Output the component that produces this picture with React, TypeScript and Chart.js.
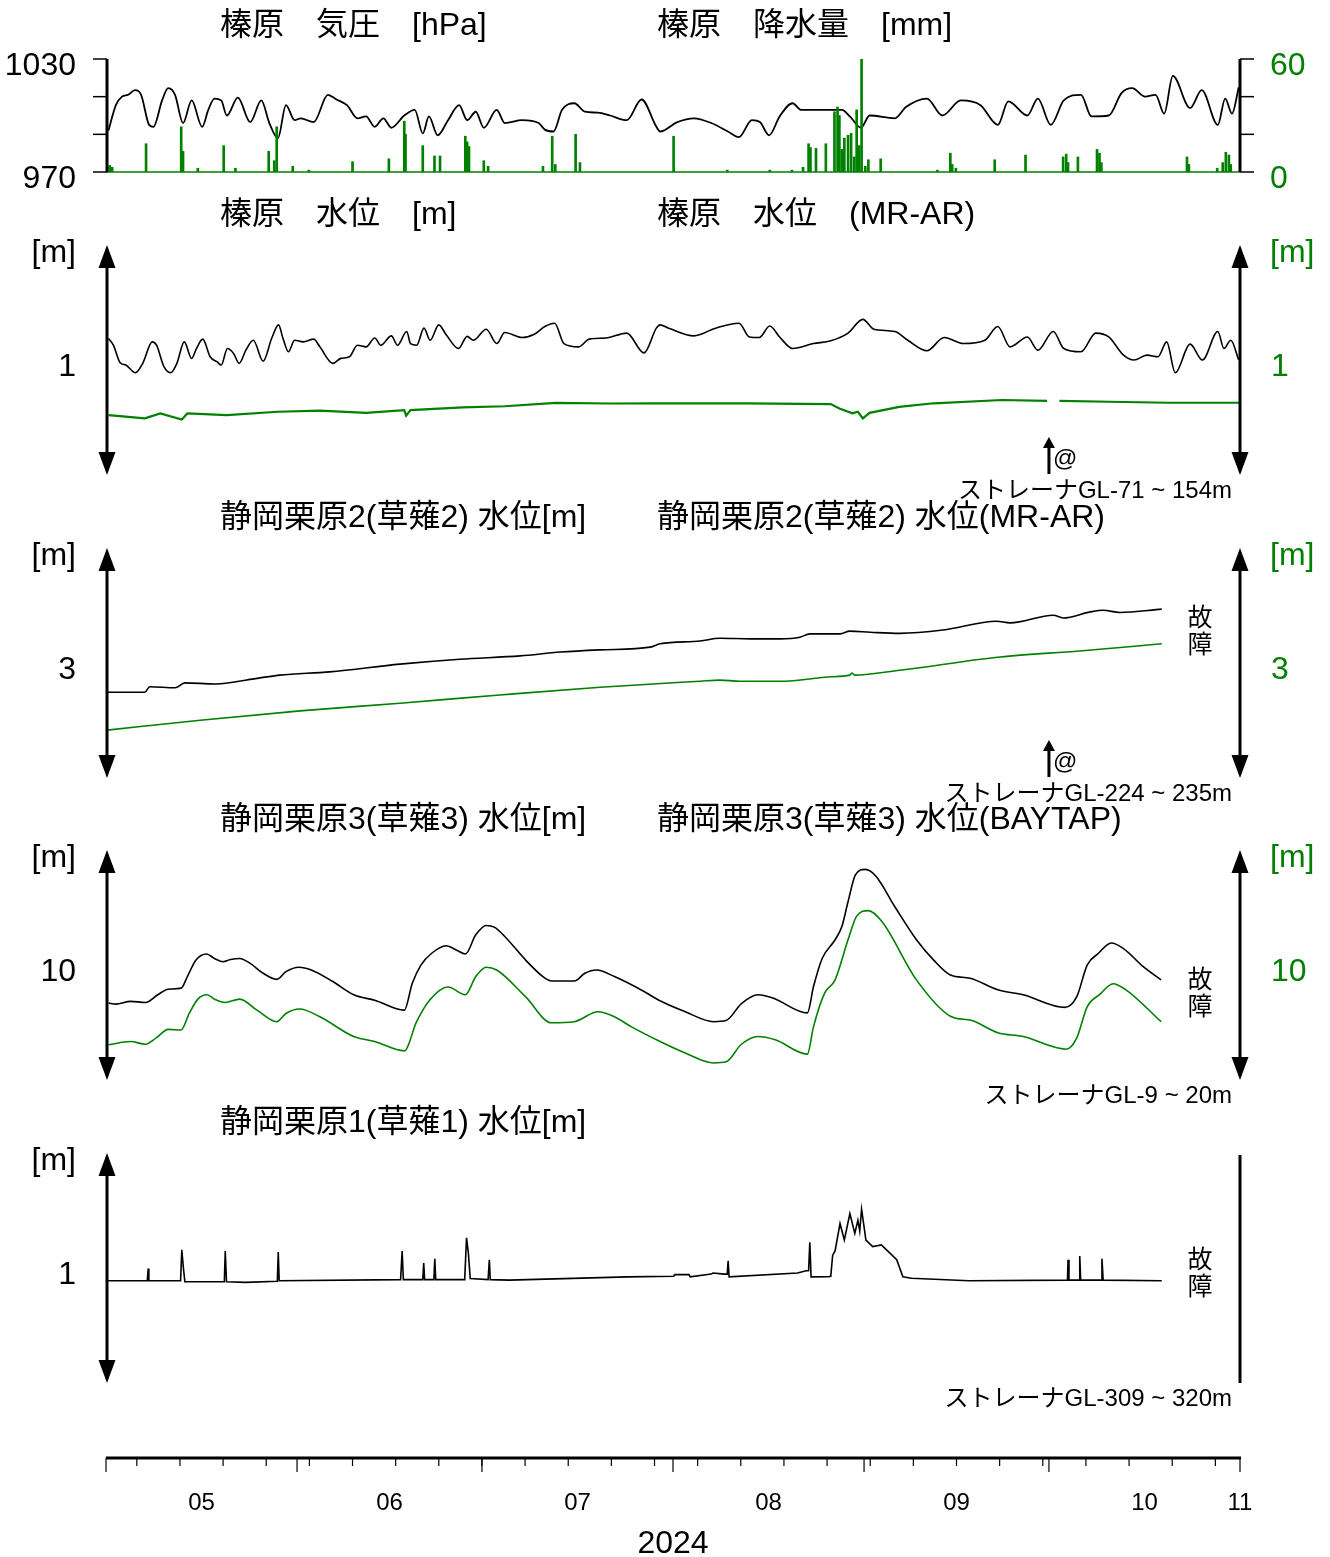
import React, { useEffect, useRef } from 'react';
import { Chart, registerables } from 'chart.js';

Chart.register(...registerables);

type Pt = [number, number | null];

const GREEN = '#008000';
const BLACK = '#000000';
const FONT = '"Liberation Sans", Arial, "Noto Sans CJK JP", sans-serif';

// x values are days counted from 2024-05-01
const monthLabels = ['05', '06', '07', '08', '09', '10', '11'];
const monthStartDays = [0, 31, 61, 92, 123, 153, 184];
const weeklyTickDays = [5, 12, 19, 26, 33, 40, 47, 54, 61, 68, 75, 82, 89, 96, 103, 110, 117, 124, 131, 138, 145, 152, 159, 166, 173, 180];
const yearLabel = '2024';

const pressureTicks = [970, 990, 1010, 1030];
const pressureTickLabels = [970, 1030];
const rainTicks = [0, 20, 40, 60];
const rainTickLabels = [0, 60];

// 榛原 気圧 [hPa]
const pressureHpa: Pt[] = [
  [0.4, 992], [1.6, 1005.5], [2.6, 1010], [3.6, 1011], [4.7, 1013.5], [5.7, 1011], [7.0, 995], [7.7, 994],
  [9.1, 1008], [10.1, 1014.5], [11.2, 1011], [12.5, 996], [13.9, 1008], [15.6, 994], [16.6, 1003], [17.6, 1009],
  [18.7, 1008], [19.6, 1000], [21.4, 1009.5], [23.4, 996.5], [25.2, 1008], [26.5, 996], [27.9, 988], [29.2, 1005.5],
  [30.6, 997.5], [31.6, 998.5], [33.7, 996.5], [36.0, 1011], [37.4, 1008.5], [39.1, 1005.5], [40.8, 998.5],
  [42.2, 999.5], [43.6, 994], [45.0, 998.5], [46.3, 993.5], [48.4, 1000], [50.1, 1003], [51.4, 990.5],
  [52.4, 999.5], [53.8, 989.5], [55.5, 997.5], [57.3, 1005.5], [58.6, 997.5], [60.0, 1002], [61.3, 993.5],
  [63.4, 1003], [64.7, 996], [67.5, 997.5], [70.2, 996], [71.2, 992.5], [72.6, 991.5], [74.0, 1003], [76.0, 1006.5],
  [77.7, 1002], [79.8, 1001.5], [81.8, 1000], [84.5, 997.5], [86.9, 1008.5], [89.3, 994], [89.9, 991.5],
  [92.7, 996.5], [95.4, 998.5], [98.2, 996], [100.9, 991.5], [102.7, 988.5], [104.8, 997.5], [106.1, 996.5],
  [107.6, 989.5], [109.3, 999.5], [111.4, 1006.5], [112.8, 1003], [116.2, 1003], [119.4, 1003], [120.7, 999.5],
  [122.5, 993.5], [123.9, 1000], [128.0, 998.5], [129.8, 1004.5], [133.2, 1009], [135.7, 1000], [138.7, 1008],
  [141.9, 1005.5], [144.7, 995], [146.4, 1007.5], [149.5, 1000], [151.2, 1009], [153.3, 995], [155.4, 1008],
  [158.2, 1011], [159.9, 999.5], [162.7, 1000], [164.8, 1012], [166.5, 1014.5], [168.6, 1010], [170.3, 1011],
  [171.7, 1001], [173.1, 1021], [175.9, 1004], [177.8, 1013.5], [180.4, 995], [181.6, 1009], [182.7, 1001],
  [183.8, 1015],
];

// 榛原 降水量 [mm]
const rainMm: Pt[] = [
  [0.6, 3.5], [1.0, 2.5], [6.5, 15], [12.2, 24], [12.5, 11], [14.9, 2], [19.1, 14], [21.0, 2], [26.4, 11],
  [27.3, 6], [27.7, 24], [30.3, 3], [32.9, 1], [40.0, 5.5], [45.9, 7], [48.4, 27], [48.6, 20], [51.4, 14],
  [53.3, 8.5], [54.2, 8.5], [58.3, 19], [58.6, 16], [58.9, 13.5], [61.3, 6], [62.0, 3], [70.9, 3], [72.4, 19],
  [72.9, 4], [76.2, 20], [76.9, 5], [92.1, 19], [100.8, 1], [107.7, 1], [111.3, 1], [113.1, 2.5], [114.0, 15],
  [114.3, 13], [115.2, 12.5], [116.8, 15], [118.2, 32], [118.7, 34.5], [119.0, 30], [119.4, 12], [119.8, 18],
  [120.4, 19.5], [120.9, 20.5], [121.4, 8], [121.8, 33], [122.2, 14], [122.6, 60], [123.2, 3], [123.7, 6.5],
  [125.7, 7], [134.9, 1], [137.0, 10], [137.3, 4], [137.9, 2], [144.2, 6.5], [149.2, 9], [155.3, 8], [155.8, 9.5],
  [156.1, 5], [157.7, 8], [160.8, 12], [161.2, 10], [161.5, 5], [175.4, 8], [175.7, 4], [180.3, 2], [181.2, 5],
  [181.7, 10.5], [182.2, 9], [182.5, 4],
];

// 榛原 水位 [m]
const haibaraLevel: Pt[] = [
  [0.4, 1.24], [1.2, 1.18], [2.3, 1.02], [3.2, 1.0], [4.8, 0.93], [6.0, 1.02], [7.5, 1.21], [8.2, 1.18],
  [9.4, 0.985], [10.5, 0.93], [11.5, 1.015], [12.7, 1.21], [13.9, 1.06], [14.6, 1.14], [15.7, 1.235], [16.9, 1.075],
  [18.0, 1.03], [18.7, 1.0], [19.7, 1.15], [20.7, 1.105], [21.6, 1.015], [22.7, 1.135], [23.9, 1.225], [25.5, 1.035],
  [26.9, 1.245], [28.0, 1.365], [28.7, 1.245], [29.6, 1.12], [30.6, 1.225], [32.0, 1.21], [33.7, 1.235],
  [34.7, 1.165], [36.8, 1.015], [38.1, 1.06], [39.5, 1.075], [40.8, 1.18], [42.2, 1.165], [43.6, 1.245],
  [44.6, 1.18], [46.3, 1.265], [47.3, 1.18], [48.8, 1.305], [49.4, 1.195], [50.4, 1.18], [51.6, 1.335],
  [52.6, 1.225], [54.0, 1.365], [55.2, 1.275], [57.2, 1.15], [58.6, 1.26], [59.6, 1.225], [61.7, 1.325],
  [63.4, 1.195], [64.7, 1.295], [67.5, 1.25], [69.5, 1.28], [71.2, 1.35], [72.8, 1.38], [74.3, 1.195],
  [76.7, 1.165], [78.4, 1.235], [81.1, 1.245], [84.5, 1.29], [87.3, 1.11], [89.3, 1.335], [89.9, 1.365],
  [91.3, 1.335], [95.4, 1.265], [98.9, 1.335], [102.7, 1.38], [104.4, 1.255], [106.0, 1.25], [107.7, 1.355],
  [109.3, 1.255], [111.4, 1.15], [114.8, 1.195], [117.6, 1.22], [120.4, 1.29], [122.8, 1.415], [124.6, 1.325],
  [128.0, 1.305], [130.1, 1.225], [133.2, 1.13], [136.0, 1.25], [139.1, 1.195], [142.6, 1.225], [144.7, 1.35],
  [146.7, 1.165], [149.5, 1.255], [151.2, 1.135], [153.7, 1.305], [155.4, 1.15], [158.2, 1.12], [160.6, 1.29],
  [162.7, 1.255], [165.1, 1.09], [166.8, 1.045], [168.9, 1.09], [170.7, 1.075], [172.1, 1.21], [173.5, 0.93],
  [175.9, 1.19], [177.9, 1.045], [180.4, 1.305], [181.4, 1.15], [182.5, 1.225], [183.8, 1.045],
];

// 榛原 水位 (MR-AR)
const haibaraLevelMrAr: Pt[] = [
  [0.4, 0.545], [6.3, 0.515], [8.8, 0.56], [12.3, 0.505], [13.2, 0.56], [19.6, 0.545], [27.9, 0.575],
  [34.7, 0.585], [42.2, 0.565], [48.4, 0.59], [48.7, 0.54], [49.4, 0.59], [57.9, 0.615], [64.7, 0.625],
  [73.0, 0.655], [81.8, 0.65], [89.9, 0.652], [103.8, 0.652], [117.6, 0.645], [119.0, 0.605], [121.1, 0.56],
  [122.0, 0.575], [122.8, 0.515], [123.9, 0.565], [128.7, 0.62], [134.3, 0.652], [145.4, 0.682], [152.7, 0.673],
  [152.8, null], [154.7, 0.673], [162.7, 0.666], [172.4, 0.657], [183.8, 0.657],
];

// 静岡栗原2(草薙2) 水位 [m]
const kusanagi2Level: Pt[] = [
  [0.2, 2.78], [6.3, 2.78], [7.1, 2.83], [11.2, 2.82], [12.8, 2.865], [17.7, 2.855], [25.0, 2.91], [28.2, 2.935],
  [36.3, 2.965], [47.7, 3.035], [57.4, 3.08], [67.2, 3.11], [73.7, 3.145], [80.2, 3.165], [88.3, 3.19],
  [89.9, 3.22], [96.4, 3.245], [99.6, 3.27], [104.5, 3.265], [109.4, 3.265], [112.6, 3.28], [114.2, 3.31],
  [119.1, 3.31], [120.7, 3.335], [124.0, 3.325], [128.8, 3.315], [135.8, 3.345], [144.5, 3.425], [146.7, 3.41],
  [153.7, 3.48], [155.3, 3.455], [159.7, 3.51], [161.8, 3.525], [164.5, 3.505], [171.3, 3.535],
];

// 静岡栗原2(草薙2) 水位 (MR-AR)
const kusanagi2LevelMrAr: Pt[] = [
  [0.2, 2.435], [15.3, 2.525], [31.5, 2.61], [47.7, 2.68], [63.9, 2.755], [80.2, 2.825], [96.4, 2.88],
  [99.6, 2.89], [102.9, 2.88], [109.4, 2.88], [114.2, 2.9], [117.5, 2.92], [120.7, 2.935], [121.0, 2.955],
  [121.5, 2.935], [128.8, 2.98], [145.1, 3.1], [158.0, 3.155], [171.3, 3.22],
];

// 静岡栗原3(草薙3) 水位 [m]
const kusanagi3Level: Pt[] = [
  [0.4, 9.7], [1.6, 9.69], [4.0, 9.715], [6.4, 9.705], [8.4, 9.775], [10.1, 9.825], [12.2, 9.835], [13.2, 9.94],
  [14.6, 10.09], [16.3, 10.145], [17.6, 10.105], [19.0, 10.075], [20.2, 10.095], [21.7, 10.105], [23.4, 10.06],
  [25.5, 9.97], [27.7, 9.915], [29.2, 9.985], [31.3, 10.025], [33.3, 10.0], [36.8, 9.895], [40.2, 9.775],
  [43.6, 9.725], [48.4, 9.635], [49.7, 9.88], [51.1, 10.045], [52.8, 10.15], [55.2, 10.22], [56.9, 10.18],
  [58.3, 10.145], [60.0, 10.32], [61.7, 10.405], [63.0, 10.39], [64.7, 10.305], [68.1, 10.09], [70.9, 9.94],
  [72.3, 9.9], [76.0, 9.9], [77.7, 9.97], [79.6, 10.0], [82.5, 9.94], [87.3, 9.805], [89.9, 9.72], [94.0, 9.62],
  [98.6, 9.53], [100.6, 9.54], [103.1, 9.695], [105.8, 9.775], [108.2, 9.745], [113.8, 9.61], [114.8, 9.85],
  [116.2, 10.105], [118.3, 10.275], [119.4, 10.395], [120.4, 10.62], [121.6, 10.865], [123.2, 10.915],
  [124.9, 10.855], [128.0, 10.575], [131.5, 10.275], [134.3, 10.09], [137.0, 9.955], [140.2, 9.925],
  [144.7, 9.82], [148.8, 9.775], [155.6, 9.66], [157.5, 9.755], [159.2, 10.045], [161.0, 10.15], [163.1, 10.245],
  [165.1, 10.195], [168.3, 10.03], [171.2, 9.91],
];

// 静岡栗原3(草薙3) 水位 (BAYTAP)
const kusanagi3LevelBaytap: Pt[] = [
  [0.4, 9.32], [4.0, 9.35], [6.4, 9.325], [8.1, 9.38], [10.1, 9.46], [12.2, 9.455], [13.5, 9.605], [14.9, 9.735],
  [16.4, 9.775], [17.6, 9.735], [19.3, 9.705], [21.7, 9.735], [24.5, 9.635], [27.7, 9.53], [29.2, 9.605],
  [31.4, 9.645], [34.7, 9.575], [40.2, 9.395], [43.6, 9.35], [48.4, 9.265], [50.4, 9.53], [52.5, 9.725],
  [55.5, 9.845], [58.3, 9.775], [60.0, 9.94], [61.7, 10.025], [63.4, 10.0], [68.1, 9.755], [72.3, 9.52],
  [76.0, 9.53], [79.8, 9.62], [82.5, 9.575], [85.2, 9.485], [89.9, 9.35], [94.0, 9.245], [98.6, 9.155],
  [100.6, 9.165], [103.1, 9.325], [105.8, 9.395], [108.6, 9.365], [113.8, 9.235], [114.8, 9.485], [116.6, 9.79],
  [118.3, 9.91], [120.4, 10.275], [121.8, 10.49], [123.7, 10.54], [125.9, 10.44], [131.5, 9.91], [137.0, 9.58],
  [140.5, 9.54], [144.7, 9.43], [148.8, 9.395], [155.8, 9.28], [157.5, 9.38], [159.2, 9.665], [161.3, 9.78],
  [163.4, 9.875], [165.5, 9.82], [171.2, 9.53],
];

// 静岡栗原1(草薙1) 水位 [m]
const kusanagi1Level: Pt[] = [
  [0.0, 0.93], [6.7, 0.93], [6.85, 1.04], [6.95, 0.93], [12.1, 0.93], [12.3, 1.21], [12.55, 1.05], [12.8, 0.92],
  [19.2, 0.92], [19.35, 1.2], [19.55, 0.92], [22.7, 0.915], [27.8, 0.925], [27.95, 1.19], [28.1, 0.93],
  [47.8, 0.94], [48.05, 1.2], [48.25, 0.94], [51.4, 0.94], [51.55, 1.09], [51.7, 0.94], [53.2, 0.94],
  [53.35, 1.13], [53.5, 0.94], [58.2, 0.94], [58.5, 1.32], [58.8, 1.18], [59.1, 0.95], [62.0, 0.94],
  [62.2, 1.12], [62.35, 0.94], [65.4, 0.935], [84.6, 0.965], [92.1, 0.97], [92.3, 0.985], [94.6, 0.985],
  [94.8, 0.965], [98.2, 0.99], [98.5, 1.0], [100.3, 0.99], [100.8, 0.99], [100.95, 1.11], [101.1, 0.965],
  [112.2, 1.0], [113.6, 1.02], [114.0, 1.02], [114.2, 1.28], [114.4, 0.965], [117.2, 0.966], [117.6, 0.97],
  [117.9, 1.16], [118.3, 1.2], [119.1, 1.45], [119.8, 1.3], [120.7, 1.54], [121.5, 1.36], [122.0, 1.48],
  [122.3, 1.38], [122.6, 1.58], [123.3, 1.3], [124.4, 1.24], [125.8, 1.255], [127.2, 1.18], [128.3, 1.12],
  [129.3, 0.966], [130.7, 0.952], [140.0, 0.93], [156.0, 0.935], [156.1, 1.12], [156.25, 0.935], [157.9, 0.935],
  [158.0, 1.155], [158.15, 0.935], [161.5, 0.935], [161.6, 1.13], [161.8, 0.935], [171.3, 0.93],
];

const toXY = (pts: Pt[]) => pts.map(([x, y]) => ({ x, y }));

function lineSet(pts: Pt[], color: string, axis: string, smooth = false, order = 0, width = 1.6) {
  return {
    type: 'line',
    data: toXY(pts),
    borderColor: color,
    borderWidth: width,
    pointRadius: 0,
    fill: false,
    tension: 0,
    cubicInterpolationMode: smooth ? 'monotone' : 'default',
    spanGaps: false,
    yAxisID: axis,
    order,
  };
}

// ---------- drawing helpers ----------
function txt(ctx: CanvasRenderingContext2D, s: string, x: number, y: number, size: number,
  color = BLACK, align: CanvasTextAlign = 'left') {
  ctx.save();
  ctx.font = `${size}px ${FONT}`;
  ctx.fillStyle = color;
  ctx.textAlign = align;
  ctx.textBaseline = 'middle';
  ctx.fillText(s, x, y + 2);
  ctx.restore();
}

function seg(ctx: CanvasRenderingContext2D, x1: number, y1: number, x2: number, y2: number, w: number, color = BLACK) {
  ctx.save();
  ctx.strokeStyle = color;
  ctx.lineWidth = w;
  ctx.beginPath();
  ctx.moveTo(x1, y1);
  ctx.lineTo(x2, y2);
  ctx.stroke();
  ctx.restore();
}

function tri(ctx: CanvasRenderingContext2D, x: number, tipY: number, baseY: number, half: number) {
  ctx.save();
  ctx.fillStyle = BLACK;
  ctx.beginPath();
  ctx.moveTo(x, tipY);
  ctx.lineTo(x - half, baseY);
  ctx.lineTo(x + half, baseY);
  ctx.closePath();
  ctx.fill();
  ctx.restore();
}

function arrowAxis(ctx: CanvasRenderingContext2D, x: number, top: number, bottom: number) {
  seg(ctx, x, top + 15, x, bottom - 15, 3);
  tri(ctx, x, top, top + 23, 8.5);
  tri(ctx, x, bottom, bottom - 23, 8.5);
}

function marker(ctx: CanvasRenderingContext2D, x: number, bottom: number) {
  seg(ctx, x, bottom - 1, x, bottom - 30, 3);
  tri(ctx, x, bottom - 38, bottom - 27, 6);
  txt(ctx, '@', x + 4, bottom - 18, 24);
}

function fault(ctx: CanvasRenderingContext2D, centerY: number) {
  txt(ctx, '故', 1200, centerY - 13.5, 25, BLACK, 'center');
  txt(ctx, '障', 1200, centerY + 13.5, 25, BLACK, 'center');
}

function waterPanelFrame(chart: any, titles: string[], tick: number, strainer: string, rightArrow = true) {
  const { ctx, chartArea: a, scales } = chart;
  const yL = scales.y;
  txt(ctx, titles[0], 220, a.top - 42, 32);
  if (titles[1]) txt(ctx, titles[1], 657, a.top - 42, 32);
  arrowAxis(ctx, a.left + 1, a.top - 10, a.bottom);
  txt(ctx, '[m]', 76, a.top - 4, 32, BLACK, 'right');
  txt(ctx, String(tick), 76, yL.getPixelForValue(tick), 32, BLACK, 'right');
  if (rightArrow) {
    arrowAxis(ctx, a.right, a.top - 10, a.bottom);
    txt(ctx, '[m]', 1270, a.top - 4, 32, GREEN);
    txt(ctx, String(tick), 1271, scales.y2.getPixelForValue(tick), 32, GREEN);
  } else {
    seg(ctx, a.right, a.top - 8, a.right, a.bottom, 3);
  }
  txt(ctx, strainer, 1232, a.bottom + 14, 24, BLACK, 'right');
}

interface PanelDef {
  canvasTop: number;
  canvasHeight: number;
  plotTop: number;
  plotBottom: number;
  yRange: [number, number];
  y2Range: [number, number];
  datasets: any[];
  decorate: (chart: any) => void;
}

const PANELS: PanelDef[] = [
  {
    canvasTop: 0, canvasHeight: 200, plotTop: 59, plotBottom: 172,
    yRange: [970, 1030], y2Range: [0, 60],
    datasets: [
      lineSet(pressureHpa, BLACK, 'y', true, 2, 1.8),
      {
        type: 'bar', data: toXY(rainMm), backgroundColor: GREEN, borderWidth: 0,
        barThickness: 2, yAxisID: 'y2', order: 0,
      },
    ],
    decorate: (chart) => {
      const { ctx, chartArea: a, scales } = chart;
      txt(ctx, '榛原　気圧　[hPa]', 220, a.top - 35, 32);
      txt(ctx, '榛原　降水量　[mm]', 657, a.top - 35, 32);
      seg(ctx, a.left, scales.y2.getPixelForValue(0), a.right, scales.y2.getPixelForValue(0), 1.5, GREEN);
      seg(ctx, a.left + 1, a.top, a.left + 1, a.bottom, 3);
      seg(ctx, a.right, a.top, a.right, a.bottom, 3);
      pressureTicks.forEach((v) => {
        const py = scales.y.getPixelForValue(v);
        seg(ctx, a.left - 13, py, a.left + 1, py, 1.5);
      });
      rainTicks.forEach((v) => {
        const py = scales.y2.getPixelForValue(v);
        seg(ctx, a.right, py, a.right + 14, py, 1.5);
      });
      pressureTickLabels.forEach((v) => txt(ctx, String(v), 76, scales.y.getPixelForValue(v) + 5, 32, BLACK, 'right'));
      rainTickLabels.forEach((v) => txt(ctx, String(v), 1270, scales.y2.getPixelForValue(v) + 5, 32, GREEN));
    },
  },
  {
    canvasTop: 190, canvasHeight: 320, plotTop: 255, plotBottom: 475,
    yRange: [0, 2], y2Range: [0, 2],
    datasets: [lineSet(haibaraLevel, BLACK, 'y', true), lineSet(haibaraLevelMrAr, GREEN, 'y2', false, 0, 2.2)],
    decorate: (chart) => {
      waterPanelFrame(chart, ['榛原　水位　[m]', '榛原　水位　(MR-AR)'], 1, 'ストレーナGL-71 ~ 154m');
      marker(chart.ctx, chart.scales.x.getPixelForValue(153), chart.chartArea.bottom);
    },
  },
  {
    canvasTop: 495, canvasHeight: 315, plotTop: 558, plotBottom: 778,
    yRange: [2, 4], y2Range: [2, 4],
    datasets: [lineSet(kusanagi2Level, BLACK, 'y', true), lineSet(kusanagi2LevelMrAr, GREEN, 'y2', true)],
    decorate: (chart) => {
      waterPanelFrame(chart, ['静岡栗原2(草薙2) 水位[m]', '静岡栗原2(草薙2) 水位(MR-AR)'], 3, 'ストレーナGL-224 ~ 235m');
      marker(chart.ctx, chart.scales.x.getPixelForValue(153), chart.chartArea.bottom);
      fault(chart.ctx, chart.chartArea.top + 73);
    },
  },
  {
    canvasTop: 795, canvasHeight: 315, plotTop: 860, plotBottom: 1080,
    yRange: [9, 11], y2Range: [9, 11],
    datasets: [lineSet(kusanagi3Level, BLACK, 'y', true), lineSet(kusanagi3LevelBaytap, GREEN, 'y2', true)],
    decorate: (chart) => {
      waterPanelFrame(chart, ['静岡栗原3(草薙3) 水位[m]', '静岡栗原3(草薙3) 水位(BAYTAP)'], 10, 'ストレーナGL-9 ~ 20m');
      fault(chart.ctx, chart.chartArea.top + 133);
    },
  },
  {
    canvasTop: 1100, canvasHeight: 457, plotTop: 1163, plotBottom: 1383,
    yRange: [0, 2], y2Range: [0, 2],
    datasets: [lineSet(kusanagi1Level, BLACK, 'y')],
    decorate: (chart) => {
      const { ctx, chartArea: a, scales } = chart;
      waterPanelFrame(chart, ['静岡栗原1(草薙1) 水位[m]'], 1, 'ストレーナGL-309 ~ 320m', false);
      fault(ctx, a.top + 110);
      // time axis
      const axisY = a.bottom + 75;
      seg(ctx, a.left, axisY, a.right + 1, axisY, 3);
      weeklyTickDays.forEach((d) => {
        const px = scales.x.getPixelForValue(d);
        seg(ctx, px, axisY, px, axisY + 8, 1.2);
      });
      monthStartDays.forEach((d) => {
        const px = scales.x.getPixelForValue(d);
        seg(ctx, px, axisY, px, axisY + 14, 1.2);
      });
      monthLabels.forEach((lab, i) => {
        const d = i < monthLabels.length - 1 ? (monthStartDays[i] + monthStartDays[i + 1]) / 2 : monthStartDays[i];
        txt(ctx, lab, scales.x.getPixelForValue(d), axisY + 43, 24, BLACK, 'center');
      });
      txt(ctx, yearLabel, (a.left + a.right) / 2, axisY + 84, 32, BLACK, 'center');
    },
  },
];

function buildConfig(p: PanelDef): any {
  return {
    type: 'line',
    data: { datasets: p.datasets },
    options: {
      responsive: false,
      maintainAspectRatio: false,
      animation: false,
      devicePixelRatio: 1,
      events: [],
      layout: {
        padding: {
          left: 106,
          right: 90,
          top: p.plotTop - p.canvasTop,
          bottom: p.canvasTop + p.canvasHeight - p.plotBottom,
        },
      },
      plugins: { legend: { display: false }, tooltip: { enabled: false }, title: { display: false } },
      scales: {
        x: { type: 'linear', min: 0, max: 184, display: false, offset: false },
        y: { type: 'linear', min: p.yRange[0], max: p.yRange[1], display: false },
        y2: { type: 'linear', min: p.y2Range[0], max: p.y2Range[1], display: false, position: 'right' },
      },
    },
    plugins: [{ id: 'panelDecor', afterDraw: (chart: any) => p.decorate(chart) }],
  };
}

export default function App() {
  const refs = useRef<(HTMLCanvasElement | null)[]>([]);

  useEffect(() => {
    const charts = PANELS.map((p, i) => new Chart(refs.current[i] as HTMLCanvasElement, buildConfig(p)));
    return () => charts.forEach((c) => c.destroy());
  }, []);

  return (
    <div style={{ position: 'absolute', left: 0, top: 0, width: 1330, height: 1557, background: '#fff' }}>
      {PANELS.map((p, i) => (
        <canvas
          key={i}
          ref={(el) => { refs.current[i] = el; }}
          width={1330}
          height={p.canvasHeight}
          style={{ position: 'absolute', left: 0, top: p.canvasTop, width: 1330, height: p.canvasHeight }}
        />
      ))}
    </div>
  );
}
